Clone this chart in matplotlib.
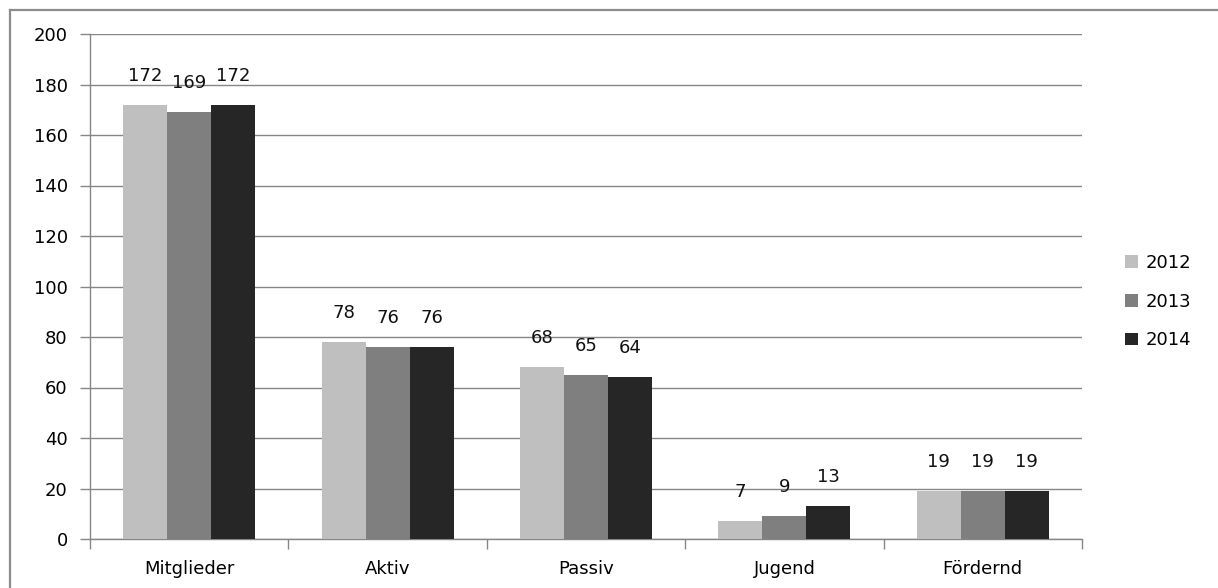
import matplotlib.pyplot as plt
from matplotlib.lines import Line2D
import numpy as np

categories = ["Mitglieder", "Aktiv", "Passiv", "Jugend", "Fördernd"]
years = ["2012", "2013", "2014"]
counts_2012 = [172, 78, 68, 7, 19]
counts_2013 = [169, 76, 65, 9, 19]
counts_2014 = [172, 76, 64, 13, 19]
colors = ["#bfbfbf", "#7f7f7f", "#262626"]

plt.rcParams['font.family'] = ['DejaVu Sans']
grey = "#868686"
fs = 13

fig = plt.figure(figsize=(12.18, 5.88), dpi=100)
ax = fig.add_axes([90 / 1218, 49 / 588, 992 / 1218, 505 / 588])

# outer frame, only top and left edges show
fig.add_artist(Line2D([10 / 1218, 10 / 1218], [0, 578 / 588], color="#8c8c8c", lw=1.6))
fig.add_artist(Line2D([10 / 1218, 1], [578 / 588, 578 / 588], color="#8c8c8c", lw=1.6))

x = np.arange(len(categories))
width = 0.222
series = [counts_2012, counts_2013, counts_2014]
for i, vals in enumerate(series):
    pos = x + (i - 1) * width
    ax.bar(pos, vals, width, color=colors[i], label=years[i], zorder=3)
    for p, v in zip(pos, vals):
        ax.annotate(str(v), (p, v), xytext=(0, 21), textcoords="offset points",
                    ha="center", va="center", fontsize=fs, color="#111111")

ax.set_xlim(-0.5, len(categories) - 0.5)
ax.set_ylim(0, 200)
ax.set_yticks(range(0, 201, 20))
ax.yaxis.grid(True, color=grey, lw=1.0, zorder=0)

ax.set_xticks(x)
ax.set_xticklabels(categories, fontsize=fs)
ax.set_xticks(np.arange(-0.5, len(categories), 1.0), minor=True)
ax.tick_params(axis="x", which="major", length=0, pad=15)
ax.tick_params(axis="x", which="minor", length=7, color=grey, width=1.0)
ax.tick_params(axis="y", length=7, color=grey, width=1.0, labelsize=fs, pad=9)

for s in ["top", "right"]:
    ax.spines[s].set_visible(False)
for s in ["left", "bottom"]:
    ax.spines[s].set_color(grey)
    ax.spines[s].set_linewidth(1.0)

ax.legend(loc="center left", bbox_to_anchor=(1.027, 0.47), frameon=False,
          fontsize=fs, handlelength=0.7, handleheight=0.7, handletextpad=0.45,
          labelspacing=1.15)

fig.savefig("out.png", dpi=100)
